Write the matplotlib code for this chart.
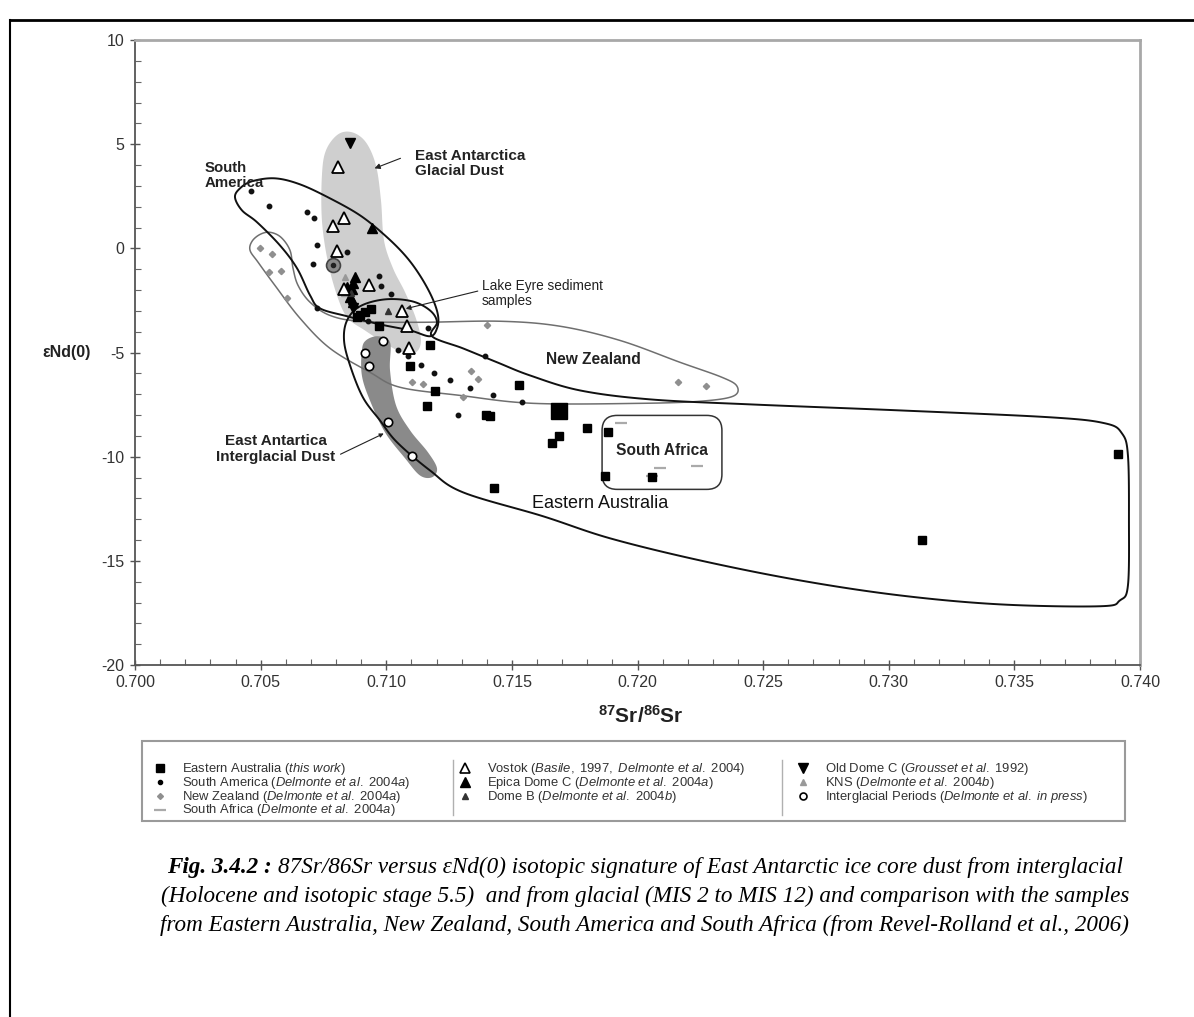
import numpy as np
import matplotlib.pyplot as plt
from matplotlib.patches import Polygon, FancyBboxPatch, Rectangle
from matplotlib.lines import Line2D
from matplotlib.ticker import MultipleLocator, FormatStrFormatter

plt.rcParams['font.family'] = ['Liberation Sans', 'DejaVu Sans']
plt.rcParams['mathtext.fontset'] = 'custom'
plt.rcParams['mathtext.rm'] = 'Liberation Sans'
plt.rcParams['mathtext.it'] = 'Liberation Sans:italic'
plt.rcParams['mathtext.bf'] = 'Liberation Sans:bold'
plt.rcParams['axes.unicode_minus'] = False

# ---- samples (87Sr/86Sr, eNd(0)) ----
east_aus_x = [0.70971, 0.70896, 0.70915, 0.70939, 0.70884, 0.71174, 0.71095, 0.71194,
              0.71162, 0.71397, 0.71413, 0.71528, 0.71688, 0.71660, 0.71799, 0.71883,
              0.71871, 0.72058, 0.71429, 0.73912, 0.73132]
east_aus_y = [-3.74, -3.22, -3.07, -2.93, -3.31, -4.66, -5.66, -6.86,
              -7.58, -8.02, -8.06, -6.58, -9.02, -9.36, -8.64, -8.83,
              -10.94, -10.99, -11.52, -9.89, -14.0]
east_aus_big_x = [0.71688]
east_aus_big_y = [-7.82]

s_america_x = [0.70462, 0.70533, 0.70685, 0.70712, 0.70724, 0.70708, 0.70844, 0.70971,
               0.70979, 0.71019, 0.70724, 0.70927, 0.71166, 0.71087, 0.71047, 0.71138,
               0.71190, 0.71254, 0.71333, 0.71425, 0.71540, 0.71286, 0.71393]
s_america_y = [2.74, 2.02, 1.73, 1.44, 0.14, -0.77, -0.19, -1.34,
               -1.82, -2.21, -2.88, -3.50, -3.84, -5.18, -4.90, -5.62,
               -6.00, -6.34, -6.72, -7.06, -7.39, -8.02, -5.18]

n_zealand_x = [0.70498, 0.70545, 0.70533, 0.70581, 0.70605, 0.71401, 0.71337, 0.71365,
               0.71103, 0.71146, 0.71305, 0.72161, 0.72273]
n_zealand_y = [0.0, -0.29, -1.15, -1.10, -2.40, -3.70, -5.90, -6.29,
               -6.43, -6.53, -7.15, -6.43, -6.62]

s_africa_x = [0.71934, 0.72090, 0.72237, 0.72058]
s_africa_y = [-8.40, -10.56, -10.46, -10.94]

vostok_x = [0.70808, 0.70832, 0.70788, 0.70804, 0.70931, 0.70832, 0.71063, 0.71083, 0.71091]
vostok_y = [3.89, 1.44, 1.06, -0.14, -1.78, -1.97, -3.02, -3.74, -4.80]

epica_x = [0.70943, 0.70876, 0.70868, 0.70864, 0.70856, 0.70868, 0.70844]
epica_y = [0.96, -1.39, -1.68, -1.97, -2.35, -2.59, -1.87]

dome_b_x = [0.71007, 0.70860]
dome_b_y = [-3.02, -2.15]

old_dome_c_x = [0.70856, 0.70868]
old_dome_c_y = [5.04, -2.88]

kns_x = [0.70836, 0.70832]
kns_y = [-1.39, -2.16]

interglacial_x = [0.70987, 0.70915, 0.70931, 0.71007, 0.71103]
interglacial_y = [-4.46, -5.04, -5.66, -8.35, -9.98]

ringed_x = [0.70788]
ringed_y = [-0.82]

# ---- field outlines ----
sa_field_x = [0.70398, 0.70418, 0.70466, 0.70557, 0.70657, 0.70776, 0.70896, 0.70995,
              0.71075, 0.71134, 0.71182, 0.71206, 0.71202, 0.71174, 0.71095, 0.70975,
              0.70844, 0.70736, 0.70697, 0.70645, 0.70577, 0.70486, 0.70426]
sa_field_y = [2.45, 2.88, 3.22, 3.36, 3.07, 2.40, 1.58, 0.62,
              -0.34, -1.30, -2.35, -3.22, -3.84, -4.22, -3.94, -3.65,
              -3.26, -2.88, -2.26, -0.96, 0.14, 1.25, 1.82]

ea_field_x = [0.71182, 0.71305, 0.71441, 0.71572, 0.71771, 0.72050, 0.72448, 0.73045,
              0.73642, 0.73861, 0.73928, 0.73952, 0.73956, 0.73952, 0.73920, 0.73841,
              0.73443, 0.73045, 0.72647, 0.72249, 0.71891, 0.71624, 0.71305, 0.71174,
              0.71043, 0.70975, 0.70907, 0.70856, 0.70832, 0.70844, 0.70896, 0.70995,
              0.71102, 0.71174, 0.71202]
ea_field_y = [-4.22, -4.80, -5.47, -6.10, -6.82, -7.25, -7.49, -7.78,
              -8.11, -8.40, -8.88, -9.94, -13.06, -16.18, -16.90, -17.18,
              -17.09, -16.66, -15.94, -14.98, -13.92, -12.86, -11.71, -10.66,
              -9.31, -8.26, -7.15, -5.62, -4.42, -3.46, -2.78, -2.45,
              -2.54, -2.98, -3.55]

nz_field_x = [0.70458, 0.70466, 0.70498, 0.70537, 0.70581, 0.70617, 0.70629, 0.70649,
              0.70697, 0.70776, 0.70896, 0.71134, 0.71453, 0.71692, 0.71930, 0.72169,
              0.72336, 0.72396, 0.72380, 0.72249, 0.72010, 0.71584, 0.71294, 0.71055,
              0.70935, 0.70776, 0.70657, 0.70557, 0.70490]
nz_field_y = [-0.10, 0.34, 0.67, 0.77, 0.53, -0.10, -0.96, -1.78,
              -2.59, -3.22, -3.50, -3.55, -3.50, -3.74, -4.42, -5.47,
              -6.19, -6.62, -7.10, -7.34, -7.44, -7.44, -7.06, -6.67,
              -5.95, -4.80, -3.36, -1.78, -0.67]

glacial_x = [0.70744, 0.70760, 0.70808, 0.70864, 0.70919, 0.70959, 0.70979, 0.70991,
             0.71027, 0.71075, 0.71118, 0.71138, 0.71118, 0.71063, 0.70995, 0.70915,
             0.70848, 0.70808, 0.70768, 0.70744]
glacial_y = [3.50, 4.70, 5.47, 5.57, 5.09, 3.98, 2.30, 0.38,
             -0.96, -2.11, -3.36, -4.42, -4.99, -4.99, -4.56, -3.94,
             -3.36, -2.40, -0.67, 1.34]

interglacial_field_x = [0.70903, 0.70919, 0.70967, 0.71015, 0.71015, 0.71039, 0.71095, 0.71166,
                        0.71202, 0.71182, 0.71134, 0.71075, 0.70995, 0.70935, 0.70903]
interglacial_field_y = [-4.90, -4.42, -4.22, -4.51, -5.86, -7.54, -8.74, -9.79,
                        -10.56, -10.99, -10.90, -10.08, -8.83, -7.30, -6.10]

s_africa_box = (0.71859, -11.57, 0.72336, -8.02)  # x0, y0, x1, y1

fig = plt.figure(figsize=(11.94, 10.17), dpi=100)
ax = fig.add_axes([135 / 1194, 1 - 665 / 1017, 1005 / 1194, 625 / 1017])
ax.set_xlim(0.700, 0.740)
ax.set_ylim(-20, 10)


def smooth_closed(xs, ys, n=14):
    # catmull-rom through the outline points, done in screen space
    pts = ax.transData.transform(np.column_stack([xs, ys]))
    P = np.vstack([pts[-1], pts, pts[0], pts[1]])
    out = []
    for i in range(1, len(pts) + 1):
        p0, p1, p2, p3 = P[i - 1], P[i], P[i + 1], P[i + 2]
        for t in np.linspace(0, 1, n, endpoint=False):
            out.append(0.5 * (2 * p1 + (-p0 + p2) * t
                              + (2 * p0 - 5 * p1 + 4 * p2 - p3) * t * t
                              + (-p0 + 3 * p1 - 3 * p2 + p3) * t ** 3))
    out.append(out[0])
    return ax.transData.inverted().transform(np.array(out))


ax.add_patch(Polygon(smooth_closed(glacial_x, glacial_y), closed=True,
                     fc='#cfcfcf', ec='none', zorder=1))
ax.add_patch(Polygon(smooth_closed(interglacial_field_x, interglacial_field_y), closed=True,
                     fc='#8a8a8a', ec='none', zorder=1.2))
ax.add_patch(Polygon(smooth_closed(nz_field_x, nz_field_y), closed=True,
                     fc='none', ec='#6f6f6f', lw=1.1, zorder=2))
ax.add_patch(Polygon(smooth_closed(sa_field_x, sa_field_y), closed=True,
                     fc='none', ec='#111111', lw=1.4, zorder=2))
ax.add_patch(Polygon(smooth_closed(ea_field_x, ea_field_y), closed=True,
                     fc='none', ec='#111111', lw=1.4, zorder=2))

bx0, by0, bx1, by1 = s_africa_box
asp = (30 / 625) / (0.040 / 1005)
ax.add_patch(FancyBboxPatch((bx0, by0), bx1 - bx0, by1 - by0,
                            boxstyle='round,pad=0,rounding_size=0.0006',
                            mutation_aspect=asp, fc='none', ec='#333333', lw=1.1, zorder=2))

# ---- samples ----
ax.plot(s_africa_x, s_africa_y, ls='none', marker='_', ms=8, mew=1.6, color='#aaaaaa', zorder=3)
ax.plot(n_zealand_x, n_zealand_y, ls='none', marker='D', ms=3.2, color='#8f8f8f', zorder=3)
ax.plot(s_america_x, s_america_y, ls='none', marker='o', ms=3.2, color='#111111', zorder=4)
ax.plot(east_aus_x, east_aus_y, ls='none', marker='s', ms=6, color='black', zorder=4)
ax.plot(east_aus_big_x, east_aus_big_y, ls='none', marker='s', ms=12, color='black', zorder=4)
ax.plot(ringed_x, ringed_y, ls='none', marker='o', ms=10, mfc='#8a8a8a', mec='#444444', mew=1.2, zorder=4)
ax.plot(ringed_x, ringed_y, ls='none', marker='o', ms=3, color='#222222', zorder=5)
ax.plot(kns_x, kns_y, ls='none', marker='^', ms=4.5, color='#999999', zorder=5)
ax.plot(epica_x, epica_y, ls='none', marker='^', ms=7, color='black', zorder=5)
ax.plot(dome_b_x, dome_b_y, ls='none', marker='^', ms=5, color='#333333', zorder=5)
ax.plot(old_dome_c_x, old_dome_c_y, ls='none', marker='v', ms=7, color='black', zorder=5)
ax.plot(vostok_x, vostok_y, ls='none', marker='^', ms=8, mfc='white', mec='black', mew=1.3, zorder=6)
ax.plot(interglacial_x, interglacial_y, ls='none', marker='o', ms=6, mfc='white', mec='black', mew=1.2, zorder=6)

# ---- field labels ----
ax.text(0.71114, 4.08, 'East Antarctica\nGlacial Dust', fontsize=11, fontweight='bold',
        ha='left', va='center', linespacing=1.15, color='#222222')
ax.annotate('', xy=(0.70943, 3.79), xytext=(0.71067, 4.37),
            arrowprops=dict(arrowstyle='-|>', lw=0.8, color='#222222', mutation_scale=8))
ax.text(0.70279, 3.50, 'South\nAmerica', fontsize=10.8, fontweight='bold',
        ha='left', va='center', linespacing=1.15, color='#222222')
ax.text(0.71381, -2.16, 'Lake Eyre sediment\nsamples', fontsize=9.8,
        ha='left', va='center', linespacing=1.1, color='#222222')
ax.annotate('', xy=(0.71067, -2.93), xytext=(0.71375, -2.02),
            arrowprops=dict(arrowstyle='-|>', lw=0.8, color='#222222', mutation_scale=7))
ax.text(0.71823, -5.33, 'New Zealand', fontsize=11.2, fontweight='bold',
        ha='center', va='center', color='#222222')
ax.text(0.72097, -9.70, 'South Africa', fontsize=11.2, fontweight='bold',
        ha='center', va='center', color='#222222')
ax.text(0.71851, -12.24, 'Eastern Australia', fontsize=13,
        ha='center', va='center', color='#111111')
ax.text(0.70561, -9.65, 'East Antartica\nInterglacial Dust', fontsize=11, fontweight='bold',
        ha='center', va='center', linespacing=1.2, color='#222222')
ax.annotate('', xy=(0.71000, -8.83), xytext=(0.70808, -9.94),
            arrowprops=dict(arrowstyle='-|>', lw=0.8, color='#222222', mutation_scale=6))

# ---- axes styling ----
ax.xaxis.set_major_locator(MultipleLocator(0.005))
ax.xaxis.set_minor_locator(MultipleLocator(0.001))
ax.xaxis.set_major_formatter(FormatStrFormatter('%.3f'))
ax.yaxis.set_major_locator(MultipleLocator(5))
ax.yaxis.set_minor_locator(MultipleLocator(1))
ax.tick_params(which='major', direction='inout', length=7, width=1, color='#555555',
               labelsize=11.5, labelcolor='#333333', pad=4)
ax.tick_params(which='minor', direction='in', length=4, width=0.8, color='#666666')
for side in ['left', 'bottom']:
    ax.spines[side].set_color('#555555')
    ax.spines[side].set_linewidth(1.3)
for side in ['top', 'right']:
    ax.spines[side].set_color('#a8a8a8')
    ax.spines[side].set_linewidth(2)

fig.text(67 / 1194, 1 - 352 / 1017, 'εNd(0)', fontsize=11.5, fontweight='bold',
         ha='center', va='center', color='#222222')
fig.text(641 / 1194, 1 - 716 / 1017, r'$\mathbf{^{87}Sr/^{86}Sr}$', fontsize=15,
         ha='center', va='center', color='#222222')

# ---- legend (three boxed columns) ----
def mi(s):
    return r'$\mathit{' + s.replace(' ', r'\ ') + '}$'

legend_cols = [
    [(dict(marker='s', ms=6, color='black'), 'Eastern Australia ' + mi('(this work)')),
     (dict(marker='o', ms=3, color='black'), 'South America ' + mi('(Delmonte et al. 2004a)')),
     (dict(marker='D', ms=3, color='#8f8f8f'), 'New Zealand ' + mi('(Delmonte et al. 2004a)')),
     (dict(marker='_', ms=8, mew=1.6, color='#aaaaaa'), 'South Africa ' + mi('(Delmonte et al. 2004a)'))],
    [(dict(marker='^', ms=6.5, mfc='white', mec='black', mew=1.2), 'Vostok ' + mi('(Basile, 1997, Delmonte et al. 2004)')),
     (dict(marker='^', ms=6.5, color='black'), 'Epica Dome C ' + mi('(Delmonte et al. 2004a)')),
     (dict(marker='^', ms=5, color='#333333'), 'Dome B ' + mi('(Delmonte et al. 2004b)'))],
    [(dict(marker='v', ms=6.5, color='black'), 'Old Dome C ' + mi('(Grousset et al. 1992)')),
     (dict(marker='^', ms=4.5, color='#999999'), 'KNS ' + mi('(Delmonte et al. 2004b)')),
     (dict(marker='o', ms=5, mfc='white', mec='black', mew=1.2), 'Interglacial Periods ' + mi('(Delmonte et al. in press)'))],
]
lax = fig.add_axes([142 / 1194, 1 - 821 / 1017, 983 / 1194, 80 / 1017])
lax.set_xlim(142, 1125)
lax.set_ylim(821, 741)
lax.axis('off')
col_marker_x = [160, 465, 803]
row_y = [768, 782, 796, 810]
for entries, mx in zip(legend_cols, col_marker_x):
    for (style, _), yy in zip(entries, row_y):
        lax.plot([mx], [yy], ls='none', clip_on=False, **style)
    lax.text(mx + 22, row_y[0] - 7, '\n'.join(lab for _, lab in entries), ha='left', va='top',
             fontsize=9.4, color='#333333', linespacing=0.8)
fig.add_artist(Rectangle((142 / 1194, 1 - 821 / 1017), 983 / 1194, 80 / 1017,
                         transform=fig.transFigure, fill=False, ec='#9a9a9a', lw=1.5))
for xd in [453, 782]:
    fig.add_artist(Line2D([xd / 1194, xd / 1194], [1 - 760 / 1017, 1 - 815 / 1017],
                          transform=fig.transFigure, color='#b0b0b0', lw=1))

# ---- page frame ----
fig.add_artist(Line2D([10 / 1194, 1], [1 - 20 / 1017, 1 - 20 / 1017],
                      transform=fig.transFigure, color='black', lw=2))
fig.add_artist(Line2D([10 / 1194, 10 / 1194], [0, 1 - 20 / 1017],
                      transform=fig.transFigure, color='black', lw=1.5))

# ---- caption ----
renderer = fig.canvas.get_renderer()
cap = dict(family='Liberation Serif', style='italic', fontsize=16.7, color='black')
caption = [
    [('Fig. 3.4.2 :', dict(cap, weight='bold')),
     ('87Sr/86Sr versus εNd(0) isotopic signature of East Antarctic ice core dust from interglacial', cap)],
    [('(Holocene and isotopic stage 5.5)  and from glacial (MIS 2 to MIS 12) and comparison with the samples', cap)],
    [('from Eastern Australia, New Zealand, South America and South Africa (from Revel-Rolland et al., 2006)', cap)],
]
cap_y = [867, 896, 925]
for parts, ypx in zip(caption, cap_y):
    objs = []
    widths = []
    for s, kw in parts:
        t = fig.text(0, 1 - ypx / 1017, s, ha='left', va='center', **kw)
        objs.append(t)
        widths.append(t.get_window_extent(renderer).width)
    gap = 6
    total = sum(widths) + gap * (len(widths) - 1)
    x0 = 645 - total / 2
    for t, w in zip(objs, widths):
        t.set_x(x0 / 1194)
        x0 += w + gap

fig.savefig('out.png', dpi=100)
